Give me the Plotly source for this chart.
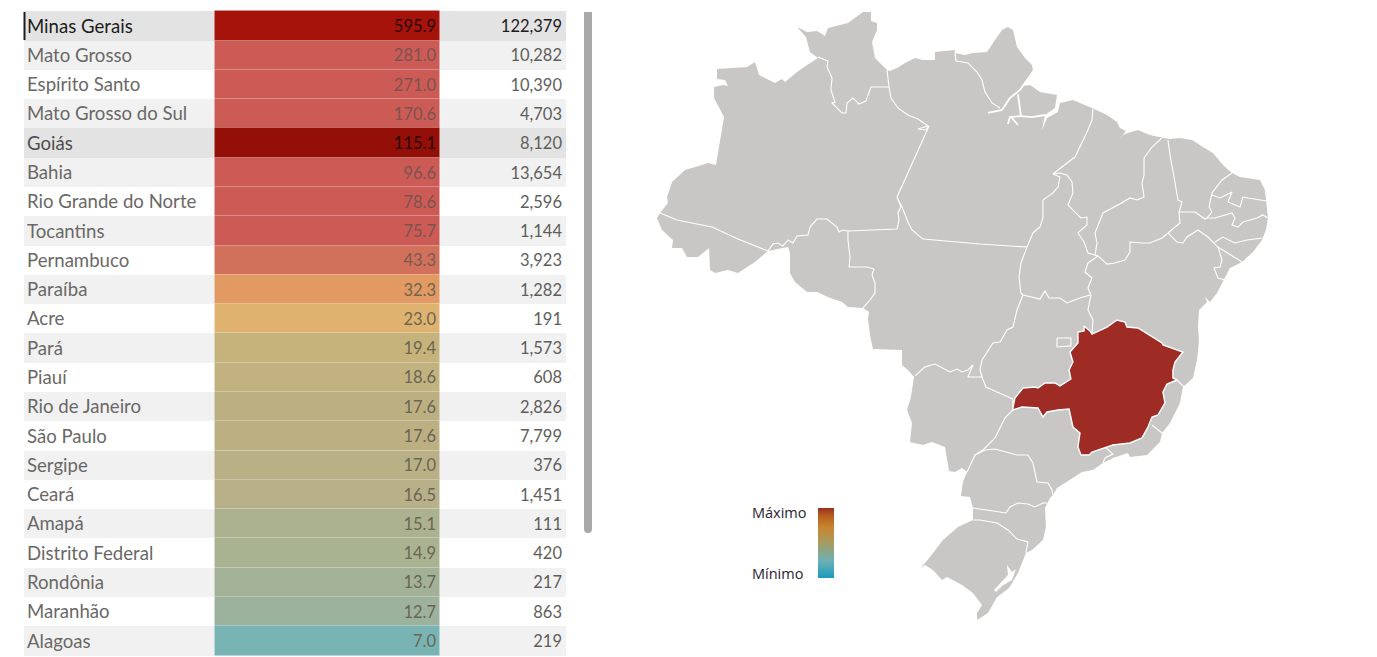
import plotly.graph_objects as go

# --- table data ---
states = ["Minas Gerais", "Mato Grosso", "Espírito Santo", "Mato Grosso do Sul", "Goiás", "Bahia",
          "Rio Grande do Norte", "Tocantins", "Pernambuco", "Paraíba", "Acre", "Pará", "Piauí",
          "Rio de Janeiro", "São Paulo", "Sergipe", "Ceará", "Amapá", "Distrito Federal",
          "Rondônia", "Maranhão", "Alagoas"]
rates = [595.9, 281.0, 271.0, 170.6, 115.1, 96.6, 78.6, 75.7, 43.3, 32.3, 23.0, 19.4, 18.6,
         17.6, 17.6, 17.0, 16.5, 15.1, 14.9, 13.7, 12.7, 7.0]
cases = [122379, 10282, 10390, 4703, 8120, 13654, 2596, 1144, 3923, 1282, 191, 1573, 608,
         2826, 7799, 376, 1451, 111, 420, 217, 863, 219]

rate_colors = ["#a6130a", "#cc5b56", "#cc5b56", "#cc5b56", "#940f07", "#cc5b56", "#cc5b56", "#cc5b56",
               "#d2715b", "#e29a62", "#dfb36f", "#c6b37c", "#c2b27f", "#bcb083", "#bcb083", "#b9b086",
               "#b7b088", "#acb290", "#aab391", "#a3b297", "#9db29c", "#79b4b5"]
band_colors = ["#e3e3e3", "#f1f1f1", "#ffffff", "#f1f1f1", "#e3e3e3", "#f1f1f1", "#ffffff", "#f1f1f1",
               "#ffffff", "#f1f1f1", "#ffffff", "#f1f1f1", "#ffffff", "#f1f1f1", "#ffffff", "#f1f1f1",
               "#ffffff", "#f1f1f1", "#ffffff", "#f1f1f1", "#ffffff", "#f1f1f1"]
name_colors = ["#1c1c1c", "#6a6866", "#6a6866", "#6a6866", "#504e4c"] + ["#6a6866"] * 17
rate_text_colors = ["#2a0705", "#7c5250", "#7c5250", "#7c5250", "#2a0705", "#7c5250", "#7c5250", "#7c5250",
                    "#7a5a50"] + ["#6b6553"] * 13
case_text_colors = ["#1c1c1c"] + ["#605e5c"] * 21

# --- map outlines, (lon, lat) ---
brazil = [(-60.82, 5.27), (-60.31, 5.27), (-60.31, 4.70), (-59.92, 4.57), (-59.92, 4.12), (-60.24, 3.35),
          (-60.05, 2.33), (-59.60, 1.88), (-59.28, 1.56), (-59.09, 1.50), (-58.64, 1.69), (-58.13, 2.01),
          (-57.49, 2.33), (-56.98, 2.20), (-56.21, 2.20), (-56.21, 2.71), (-54.93, 2.84), (-54.93, 2.65),
          (-54.29, 2.52), (-53.78, 2.65), (-52.88, 2.71), (-52.50, 3.29), (-51.92, 4.12), (-51.54, 4.31),
          (-51.22, 4.12), (-50.96, 3.03), (-50.45, 2.33), (-50.00, 1.88), (-49.94, 1.56), (-50.26, 1.05),
          (-50.64, 0.54), (-50.13, 0.60), (-49.49, 0.15), (-48.40, -0.04), (-48.53, -0.87), (-49.17, -1.32),
          (-49.36, -2.28), (-49.04, -1.51), (-48.34, -1.13), (-48.21, -0.55), (-47.38, -0.36), (-46.16, -0.87),
          (-45.20, -1.32), (-44.56, -1.77), (-44.37, -2.15), (-43.99, -2.34), (-44.56, -3.05), (-44.18, -2.60),
          (-43.86, -2.47), (-43.22, -2.28), (-42.45, -2.60), (-41.68, -2.79), (-41.23, -2.86), (-40.53, -2.79),
          (-39.76, -2.92), (-39.06, -3.37), (-38.42, -3.76), (-37.78, -4.52), (-37.20, -5.03), (-36.69, -5.29),
          (-35.41, -5.48), (-35.09, -6.12), (-34.96, -7.21), (-34.90, -7.91), (-35.03, -8.68), (-35.28, -9.32),
          (-35.86, -10.09), (-36.56, -10.73), (-37.33, -11.11), (-37.65, -11.75), (-38.16, -12.71),
          (-38.61, -13.29), (-38.93, -12.97), (-38.80, -13.29), (-39.31, -13.80), (-39.38, -14.89),
          (-39.31, -15.72), (-39.44, -17.00), (-39.70, -18.15), (-40.34, -18.73), (-40.53, -19.75),
          (-41.17, -21.03), (-41.68, -21.67), (-41.81, -22.25), (-42.64, -23.08), (-43.73, -23.21),
          (-43.86, -22.95), (-44.82, -23.27), (-45.46, -23.59), (-46.10, -24.04), (-46.80, -24.17),
          (-48.40, -25.19), (-48.66, -25.64), (-48.85, -25.83), (-49.17, -26.47), (-49.11, -27.69),
          (-49.30, -28.52), (-50.00, -29.16), (-50.39, -29.35), (-50.90, -30.63), (-51.47, -31.59),
          (-52.24, -32.17), (-52.82, -33.19), (-53.52, -33.64), (-53.52, -33.19), (-53.20, -32.68),
          (-53.78, -31.91), (-54.48, -31.40), (-55.44, -30.89), (-55.76, -31.08), (-56.34, -30.44),
          (-56.85, -30.12), (-57.11, -30.31), (-56.53, -29.61), (-55.70, -28.52), (-54.74, -27.69),
          (-53.78, -27.24), (-53.78, -26.47), (-53.97, -25.77), (-54.55, -25.70), (-54.42, -24.81),
          (-54.16, -24.17), (-54.48, -23.91), (-54.93, -24.17), (-55.31, -24.10), (-55.57, -22.57),
          (-56.40, -22.25), (-56.98, -22.44), (-57.81, -22.25), (-57.68, -21.03), (-58.00, -20.20),
          (-57.75, -19.37), (-57.55, -18.09), (-57.94, -17.64), (-58.32, -17.32), (-58.32, -16.36),
          (-60.18, -16.30), (-60.37, -15.40), (-60.50, -14.31), (-60.43, -13.93), (-60.82, -13.67),
          (-61.78, -13.61), (-62.16, -13.29), (-63.06, -12.97), (-63.76, -12.65), (-64.40, -12.65),
          (-65.17, -12.01), (-65.49, -11.43), (-65.49, -10.15), (-65.62, -9.77), (-66.90, -10.02),
          (-67.73, -10.73), (-68.24, -11.05), (-68.82, -11.43), (-69.46, -11.24), (-70.29, -11.43),
          (-70.61, -11.24), (-70.67, -9.83), (-71.38, -10.41), (-72.08, -10.41), (-72.40, -9.83),
          (-73.04, -9.83), (-72.98, -9.32), (-73.68, -8.68), (-74.00, -7.91), (-73.81, -7.59), (-73.30, -6.95),
          (-73.36, -6.57), (-73.04, -5.61), (-72.21, -4.84), (-71.12, -4.52), (-70.74, -4.39), (-70.23, -4.52),
          (-69.71, -1.45), (-70.35, -0.23), (-70.35, 0.47), (-69.78, 0.60), (-69.46, 0.54), (-69.65, 0.92),
          (-70.16, 0.98), (-70.16, 1.62), (-68.56, 1.69), (-68.24, 1.75), (-67.73, 2.07), (-67.47, 1.24),
          (-66.45, 0.73), (-66.00, 0.98), (-65.81, 0.79), (-65.04, 1.43), (-64.40, 1.88), (-63.70, 2.33),
          (-64.21, 2.71), (-64.47, 3.67), (-65.04, 4.31), (-64.40, 3.99), (-63.76, 4.06), (-63.25, 3.74),
          (-63.06, 4.25), (-61.78, 4.57), (-60.82, 5.27)]

minas_gerais = [(-51.22, -20.07), (-51.09, -19.43), (-50.58, -18.79), (-49.81, -18.73), (-49.62, -18.79),
                (-49.17, -18.47), (-48.53, -18.47), (-48.21, -18.66), (-47.51, -18.22), (-47.63, -17.64),
                (-47.38, -17.13), (-47.57, -16.49), (-47.06, -15.91), (-47.06, -15.21), (-46.67, -15.14),
                (-46.67, -14.82), (-46.29, -15.14), (-46.16, -15.34), (-45.20, -14.89), (-44.56, -14.44),
                (-44.05, -14.57), (-43.92, -14.89), (-43.22, -14.95), (-42.26, -15.53), (-41.68, -15.91),
                (-41.62, -16.04), (-40.34, -16.49), (-40.85, -17.13), (-40.98, -17.64), (-40.98, -18.15),
                (-40.72, -18.28), (-41.36, -18.54), (-41.62, -19.05), (-41.49, -19.75), (-41.94, -20.52),
                (-42.32, -20.65), (-42.58, -21.29), (-42.96, -21.99), (-43.73, -22.31), (-44.82, -22.44),
                (-45.20, -22.57), (-46.16, -22.89), (-46.35, -23.08), (-46.87, -23.08), (-47.06, -22.57),
                (-46.93, -21.67), (-47.38, -21.29), (-47.57, -20.39), (-47.63, -20.14), (-48.34, -20.20),
                (-49.04, -20.33), (-49.30, -20.65), (-49.62, -20.07), (-50.64, -20.01), (-51.22, -20.20),
                (-51.22, -20.07)]

distrito_federal = [(-48.40, -15.59), (-47.51, -15.59), (-47.51, -16.10), (-48.40, -16.17), (-48.40, -15.59)]

lagoa_dos_patos = [(-51.60, -30.12), (-51.28, -30.57), (-51.03, -30.38), (-51.28, -31.08), (-51.92, -31.46),
                   (-52.31, -31.85), (-52.43, -31.72), (-51.99, -31.21), (-51.54, -30.76), (-51.60, -30.12)]

# shared state borders
am_rr = [(-63.70, 2.39), (-63.06, 2.14), (-63.12, 1.75), (-62.80, 1.05), (-62.87, 0.28), (-62.61, -0.49),
         (-62.80, -0.55), (-62.16, -1.19), (-61.91, -1.19), (-61.84, -0.55), (-61.46, -0.23), (-61.07, -0.62),
         (-60.63, -0.42), (-60.31, 0.47), (-59.15, 0.47)]
pa_rr = [(-59.28, 1.56), (-59.15, 0.47)]
am_pa = [(-59.15, 0.47), (-59.03, -0.23), (-58.58, -0.87), (-57.94, -1.32), (-57.30, -1.58), (-56.66, -2.02),
         (-57.30, -2.22), (-56.79, -2.28), (-56.59, -2.02), (-58.64, -6.57), (-58.32, -7.21)]
pa_mt = [(-58.32, -7.21), (-57.94, -8.17), (-57.68, -8.68), (-56.98, -9.26), (-53.33, -9.58), (-50.32, -9.77)]
am_mt = [(-58.64, -6.57), (-58.39, -7.21), (-58.58, -7.59), (-58.51, -8.04), (-58.64, -8.62), (-61.78, -8.74)]
am_ro = [(-61.78, -8.74), (-62.10, -8.68), (-62.35, -8.81), (-62.48, -8.50), (-63.12, -7.98), (-63.76, -7.98),
         (-64.21, -8.49), (-64.34, -9.00), (-65.04, -9.06), (-65.30, -9.51), (-65.62, -9.32), (-65.94, -9.70),
         (-66.26, -9.51), (-66.58, -9.58), (-66.90, -10.02)]
am_ac = [(-66.90, -10.02), (-68.82, -9.26), (-70.48, -8.49), (-72.72, -8.04), (-73.81, -7.59)]
ro_mt = [(-61.78, -8.74), (-61.78, -9.32), (-61.65, -10.41), (-61.71, -11.05), (-60.56, -11.05), (-60.11, -11.18),
         (-60.24, -11.56), (-60.05, -12.07), (-60.05, -12.71), (-60.37, -13.16), (-60.82, -13.67)]
ap_pa = [(-54.93, 2.71), (-54.87, 2.14), (-54.10, 2.01), (-53.52, 1.43), (-53.20, 0.92), (-53.01, 0.15),
         (-52.56, -0.55), (-52.05, -0.87)]
pa_ma = [(-46.10, -0.94), (-46.16, -1.64), (-46.48, -2.41), (-46.80, -3.11), (-47.25, -4.01), (-47.76, -4.39),
         (-48.66, -5.10)]
pa_to = [(-48.66, -5.10), (-48.21, -5.29), (-48.34, -5.93), (-48.66, -6.31), (-49.30, -6.76), (-49.30, -7.40),
         (-49.30, -7.91), (-49.49, -8.49), (-49.94, -8.87), (-50.32, -9.77)]
to_mt = [(-50.32, -9.77), (-50.71, -10.79), (-50.83, -11.69), (-50.71, -12.71), (-50.58, -12.84)]
mt_go = [(-50.58, -12.84), (-50.96, -13.80), (-51.22, -14.89), (-51.60, -15.08), (-52.05, -15.85), (-52.50, -15.91),
         (-53.20, -17.00), (-53.33, -17.64), (-53.20, -18.09)]
mt_ms = [(-53.20, -18.09), (-54.10, -18.09), (-53.78, -17.32), (-54.10, -17.64), (-54.48, -17.77), (-54.80, -17.58),
         (-55.25, -17.77), (-56.21, -17.26), (-56.85, -17.44), (-57.49, -18.02)]
go_ms = [(-53.20, -18.09), (-52.95, -18.73), (-51.22, -19.50), (-51.22, -20.07)]
ms_sp = [(-51.09, -20.07), (-51.73, -20.71), (-52.37, -21.99), (-53.14, -22.76), (-53.65, -23.08), (-54.16, -24.17)]
pr_sp = [(-53.65, -23.08), (-53.01, -22.76), (-52.37, -22.70), (-51.60, -22.89), (-50.96, -23.08), (-50.26, -23.08),
         (-49.94, -23.59), (-49.68, -24.81), (-48.98, -24.87), (-48.72, -25.32), (-48.66, -25.64)]
pr_sc = [(-53.78, -26.47), (-52.50, -26.66), (-51.67, -26.79), (-51.41, -26.41), (-50.90, -26.15), (-50.26, -26.22),
         (-49.81, -26.41), (-49.30, -26.15), (-49.04, -26.15)]
sc_rs = [(-53.78, -27.24), (-53.33, -27.24), (-52.24, -27.43), (-51.54, -27.88), (-50.96, -28.46), (-50.26, -28.65),
         (-50.39, -29.35)]
to_go = [(-50.58, -12.84), (-49.49, -13.10), (-49.17, -12.58), (-48.91, -13.03), (-48.21, -13.03), (-47.76, -13.35),
         (-46.93, -13.03), (-46.29, -12.84)]
go_ba = [(-46.16, -15.27), (-46.10, -14.44), (-46.42, -13.80), (-46.23, -12.84), (-46.42, -12.39), (-46.16, -11.75),
         (-46.61, -11.37), (-46.42, -10.79), (-45.78, -10.34)]
to_ma = [(-48.66, -5.10), (-48.21, -5.03), (-47.76, -5.16), (-47.44, -5.61), (-47.38, -6.31), (-47.70, -7.08),
         (-47.25, -7.53), (-46.87, -7.91), (-46.48, -7.85), (-46.48, -8.36), (-47.06, -8.87), (-46.67, -9.45),
         (-46.42, -10.15), (-45.97, -10.28), (-45.78, -10.34)]
pi_ba = [(-45.78, -10.34), (-45.46, -10.60), (-45.20, -10.86), (-44.69, -10.79), (-44.05, -10.60), (-43.73, -10.09),
         (-43.73, -9.45), (-42.96, -9.51), (-42.45, -9.51), (-41.68, -9.19), (-41.30, -8.87)]
ma_pi = [(-41.68, -2.79), (-42.32, -3.37), (-42.83, -4.07), (-42.83, -5.16), (-42.96, -5.67), (-42.83, -6.57),
         (-43.28, -6.76), (-43.73, -6.63), (-44.50, -7.08), (-45.46, -7.59), (-45.97, -8.87), (-45.84, -9.51),
         (-45.97, -10.28)]
pi_ce = [(-41.30, -2.92), (-41.17, -3.88), (-40.91, -5.29), (-40.66, -6.76), (-40.40, -6.89), (-40.59, -7.53),
         (-40.53, -8.23), (-41.30, -8.87)]
pe_ba = [(-41.30, -8.87), (-40.72, -9.45), (-40.34, -9.51), (-40.08, -9.13), (-39.38, -8.68), (-38.74, -9.13),
         (-38.10, -9.77)]
ba_se = [(-38.10, -9.77), (-37.84, -10.60), (-37.97, -11.05), (-38.35, -11.11), (-38.10, -11.75), (-37.65, -11.88)]
al_se = [(-38.10, -9.77), (-36.56, -10.73)]
pe_al = [(-38.29, -9.45), (-37.78, -9.13), (-37.01, -9.51), (-36.24, -9.32), (-35.28, -9.19)]
ce_pe = [(-40.59, -7.53), (-39.57, -7.53), (-38.93, -7.98), (-38.80, -7.91)]
ce_pb = [(-38.80, -7.91), (-38.48, -7.53), (-38.67, -7.21), (-38.48, -6.31)]
ce_rn = [(-38.48, -6.31), (-37.84, -5.48), (-37.20, -5.03)]
rn_pb = [(-38.48, -6.44), (-37.97, -6.63), (-37.20, -6.25), (-37.46, -6.89), (-36.69, -7.21), (-36.50, -6.57),
         (-36.18, -6.63), (-34.96, -6.82)]
pb_pe = [(-38.80, -7.91), (-38.29, -7.91), (-37.20, -7.59), (-37.01, -7.91), (-37.20, -8.36), (-36.82, -8.49),
         (-36.50, -8.17), (-35.60, -7.91), (-35.22, -7.72), (-34.90, -7.91)]
es_ba = [(-40.72, -18.28), (-40.27, -18.73)]
es_rj = [(-42.32, -21.16), (-41.68, -21.67)]
rj_sp = [(-45.27, -22.63), (-44.82, -23.02), (-45.33, -23.27), (-45.46, -23.59)]

state_borders = [am_rr, pa_rr, am_pa, pa_mt, am_mt, am_ro, am_ac, ro_mt, ap_pa, pa_ma, pa_to, to_mt, mt_go, mt_ms,
                 go_ms, ms_sp, pr_sp, pr_sc, sc_rs, to_go, go_ba, to_ma, pi_ba, ma_pi, pi_ce, pe_ba, ba_se, al_se,
                 pe_al, ce_pe, ce_pb, ce_rn, rn_pb, pb_pe, es_ba, es_rj, rj_sp, distrito_federal]

# river channels around Marajó
amazon_main = [(-52.82, -1.19), (-51.92, -1.00), (-51.41, -0.23), (-50.77, 0.28), (-50.00, 1.37)]
marajo_south = [(-50.90, 0.00), (-50.77, -0.81), (-50.71, -1.39), (-50.00, -1.45), (-49.17, -1.32)]
marajo_branch = [(-50.71, -1.39), (-51.41, -1.45), (-51.54, -1.90)]
marajo_branch2 = [(-51.28, -1.51), (-50.90, -1.96)]
channels = [amazon_main, marajo_south, marajo_branch, marajo_branch2]

legend_scale = [[0.0, "#1a9bbd"], [0.25, "#6fb0b4"], [0.5, "#a59c62"], [0.72, "#c8852f"], [0.88, "#b9601f"], [1.0, "#9c2f22"]]

GREY = "#c8c7c5"
RED = "#9f2b25"
TABLE_W = 600
COL_NAME, COL_RATE, COL_CASES, COL_END = 24, 214.5, 439.5, 566


def lons(pts):
    return [p[0] for p in pts]


def lats(pts):
    return [p[1] for p in pts]


fig = go.Figure()

# --- table ---
fig.add_trace(go.Bar(y=states, x=[COL_END - COL_NAME] * len(states), base=COL_NAME, orientation="h",
                     marker=dict(color=band_colors, line=dict(width=0)), hoverinfo="skip"))
fig.add_trace(go.Bar(y=states, x=[COL_CASES - COL_RATE] * len(states), base=COL_RATE, orientation="h",
                     marker=dict(color=rate_colors, line=dict(color="rgba(255,255,255,0.07)", width=1)),
                     hoverinfo="skip"))
fig.add_trace(go.Scatter(y=states, x=[27] * len(states), yaxis="y3", mode="text", text=states,
                         textposition="middle right",
                         textfont=dict(family="Lato", size=18.6, color=name_colors), hoverinfo="skip"))
fig.add_trace(go.Scatter(y=states, x=[436] * len(states), yaxis="y3", mode="text", text=[f"{v:.1f}" for v in rates],
                         textposition="middle left",
                         textfont=dict(family="Lato", size=16.5, color=rate_text_colors), hoverinfo="skip"))
fig.add_trace(go.Scatter(y=states, x=[562] * len(states), yaxis="y3", mode="text", text=[f"{v:,}" for v in cases],
                         textposition="middle left",
                         textfont=dict(family="Lato", size=16.5, color=case_text_colors), hoverinfo="skip"))

# --- map ---
map_axes = dict(xaxis="x2", yaxis="y2", hoverinfo="skip")
fig.add_trace(go.Scatter(x=lons(brazil), y=lats(brazil), mode="lines", fill="toself", fillcolor=GREY,
                         line=dict(width=0), **map_axes))
for border in state_borders:
    fig.add_trace(go.Scatter(x=lons(border), y=lats(border), mode="lines",
                             line=dict(color="white", width=1.1), **map_axes))
for channel in channels:
    fig.add_trace(go.Scatter(x=lons(channel), y=lats(channel), mode="lines",
                             line=dict(color="white", width=1.8), **map_axes))
fig.add_trace(go.Scatter(x=lons(lagoa_dos_patos), y=lats(lagoa_dos_patos), mode="lines", fill="toself",
                         fillcolor="white", line=dict(width=0), **map_axes))
fig.add_trace(go.Scatter(x=lons(minas_gerais), y=lats(minas_gerais), mode="lines", fill="toself", fillcolor=RED,
                         line=dict(color="white", width=1.4), name="Minas Gerais", **map_axes))

# gradient legend
fig.add_trace(go.Scatter(x=[None, None], y=[None, None], mode="markers", showlegend=False, hoverinfo="skip",
                         marker=dict(color=[0, 1], cmin=0, cmax=1, colorscale=legend_scale, showscale=True,
                                     colorbar=dict(x=818 / 1377, xanchor="left", xpad=0, y=1 - 508 / 657,
                                                   yanchor="top", ypad=0, lenmode="pixels", len=70,
                                                   thicknessmode="pixels", thickness=16, showticklabels=False,
                                                   ticks="", outlinewidth=0, borderwidth=0))))

fig.update_layout(
    width=1377, height=657, margin=dict(l=0, r=0, t=0, b=0), showlegend=False, barmode="overlay", bargap=0,
    paper_bgcolor="white", plot_bgcolor="white",
    xaxis=dict(domain=[0, TABLE_W / 1377], range=[0, TABLE_W], visible=False),
    yaxis=dict(type="category", categoryorder="array", categoryarray=states, range=[21.55, -0.888], visible=False),
    # text sits a touch lower in its row than plotly centres it
    yaxis3=dict(type="category", categoryorder="array", categoryarray=states, range=[21.482, -0.956], visible=False,
                overlaying="y", anchor="x"),
    xaxis2=dict(domain=[TABLE_W / 1377, 1], range=[-77.65, -27.92], visible=False, anchor="y2"),
    yaxis2=dict(domain=[0, 1], range=[-36.01, 6.04], visible=False, anchor="x2"),
    shapes=[
        dict(type="line", xref="x", yref="paper", x0=24.5, x1=24.5, y0=1 - 12 / 657, y1=1 - 40 / 657,
             line=dict(color="#1c1c1c", width=2)),
        dict(type="path", xref="x", yref="paper", line=dict(width=0), fillcolor="#a9a9a9",
             path=f"M 584 {1 - 12 / 657} L 592 {1 - 12 / 657} L 592 {1 - 529 / 657} "
                  f"Q 592 {1 - 533 / 657} 588 {1 - 533 / 657} Q 584 {1 - 533 / 657} 584 {1 - 529 / 657} Z"),
    ],
    annotations=[
        dict(text="Máximo", xref="paper", yref="paper", x=750 / 1377, y=1 - 512 / 657, xanchor="left",
             yanchor="middle", showarrow=False, font=dict(family="Open Sans", size=14.5, color="#2a2230")),
        dict(text="Mínimo", xref="paper", yref="paper", x=750 / 1377, y=1 - 573 / 657, xanchor="left",
             yanchor="middle", showarrow=False, font=dict(family="Open Sans", size=14.5, color="#2a2230")),
    ],
)

fig.write_html("out.html", config=dict(displayModeBar=False), post_script="document.body.style.margin='0';")
